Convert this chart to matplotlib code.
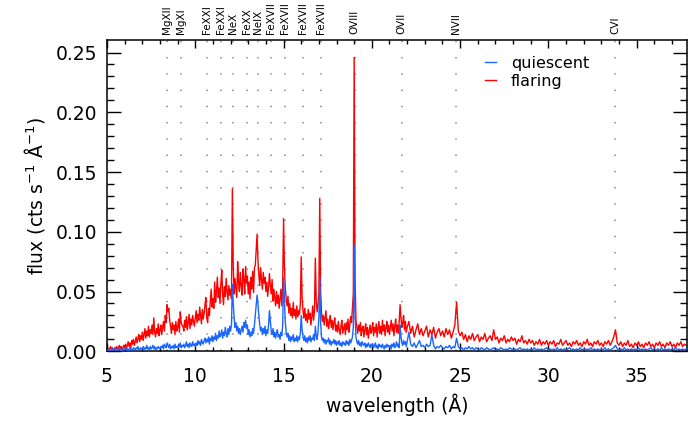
import numpy as np
import matplotlib
matplotlib.use("Agg")
import matplotlib.pyplot as plt

# Two wavelength segments (Angstrom): fine bins 5.00-21.95 (0.05 A),
# coarser bins 22.0-37.8 (0.1 A)
seg_a_start, seg_a_step = 5.0, 0.05
seg_b_start, seg_b_step = 22.0, 0.1

# flaring flux, units of 1e-3 cts s^-1 A^-1
flaring_a_milli = [
    1, 3, 0, 2, 4, 1, 3, 2, 0, 3, 2, 4, 1, 3, 5, 2, 4, 1, 3, 5,             # 5
    3, 6, 2, 5, 8, 4, 7, 3, 9, 6, 10, 5, 8, 12, 7, 11, 14, 8, 13, 10,       # 6
    16, 9, 14, 19, 11, 17, 13, 21, 12, 18, 15, 22, 14, 28, 16, 12, 19, 15, 23, 13,  # 7
    18, 22, 14, 20, 25, 17, 30, 24, 39, 33, 36, 26, 21, 15, 24, 18, 22, 14, 25, 17,  # 8
    20, 27, 16, 33, 24, 22, 21, 17, 26, 20, 29, 18, 24, 31, 19, 27, 22, 30, 25, 21,  # 9
    28, 34, 24, 31, 26, 37, 30, 23, 35, 27, 32, 39, 45, 28, 24, 36, 30, 42, 52, 37,  # 10
    44, 36, 58, 41, 50, 62, 45, 53, 40, 57, 68, 48, 39, 54, 46, 61, 50, 43, 55, 47,  # 11
    52, 44, 136, 72, 48, 61, 53, 45, 75, 58, 50, 66, 55, 47, 69, 60, 48, 71, 57, 63, # 12
    48, 58, 44, 62, 52, 67, 49, 70, 72, 85, 98, 76, 64, 55, 70, 60, 52, 66, 57, 62,  # 13
    50, 58, 46, 54, 65, 55, 48, 60, 42, 52, 45, 38, 50, 40, 47, 36, 44, 52, 38, 55,  # 14
    111, 70, 52, 44, 38, 46, 32, 40, 30, 36, 28, 41, 30, 35, 27, 38, 29, 34, 31, 40, # 15
    79, 45, 34, 28, 36, 26, 31, 24, 35, 27, 32, 22, 29, 38, 26, 34, 78, 42, 33, 40,  # 16
    48, 128, 50, 32, 25, 30, 22, 28, 34, 21, 27, 19, 25, 30, 20, 26, 18, 24, 28, 17, # 17
    22, 16, 25, 18, 14, 21, 26, 15, 19, 23, 14, 24, 18, 27, 16, 22, 29, 24, 36, 48,  # 18
    246, 60, 26, 20, 15, 22, 17, 24, 13, 19, 21, 12, 18, 23, 14, 20, 11, 17, 22, 15, # 19
    18, 24, 13, 20, 16, 23, 12, 19, 25, 15, 21, 14, 26, 17, 22, 13, 20, 25, 16, 22,  # 20
    14, 20, 26, 17, 23, 13, 21, 27, 16, 22, 15, 25, 39, 28, 20, 24, 30, 18, 25, 16,  # 21
]
flaring_b_milli = [
    20, 25, 15, 21, 12, 18, 23, 14, 19, 13,  # 22
    17, 21, 12, 18, 14, 20, 11, 16, 19, 13,  # 23
    17, 12, 19, 14, 18, 11, 16, 22, 41, 17,  # 24
    13, 16, 10, 14, 8, 13, 10, 15, 9, 12,    # 25
    14, 8, 12, 10, 15, 8, 11, 13, 9, 18,     # 26
    10, 12, 7, 11, 9, 13, 7, 10, 8, 12,      # 27
    9, 11, 6, 10, 8, 13, 7, 9, 6, 10,        # 28
    7, 9, 5, 8, 6, 10, 5, 8, 6, 9,           # 29
    5, 8, 6, 9, 4, 7, 6, 10, 5, 7,           # 30
    9, 5, 7, 4, 8, 6, 9, 5, 7, 4,            # 31
    8, 6, 10, 5, 7, 4, 8, 6, 9, 5,           # 32
    7, 4, 8, 6, 9, 5, 8, 12, 18, 7,          # 33
    5, 8, 4, 7, 5, 9, 4, 6, 3, 7,            # 34
    5, 8, 4, 6, 3, 7, 5, 8, 4, 6,            # 35
    3, 7, 5, 8, 4, 6, 3, 7, 5, 8,            # 36
    4, 6, 3, 7, 5, 8, 4, 6, 5,               # 37
]

# quiescent flux, units of 1e-3 cts s^-1 A^-1
quiescent_a_milli = [
    1, 0, 2, 1, 0, 1, 2, 0, 1, 3, 1, 0, 2, 1, 3, 1, 0, 2, 1, 2,             # 5
    1, 3, 1, 2, 0, 2, 3, 1, 2, 1, 3, 2, 1, 3, 2, 4, 1, 2, 3, 1,             # 6
    2, 4, 1, 3, 2, 5, 2, 3, 1, 4, 2, 3, 5, 2, 4, 1, 3, 2, 4, 3,             # 7
    2, 4, 3, 5, 2, 6, 4, 3, 7, 5, 3, 6, 2, 4, 3, 5, 2, 6, 3, 4,             # 8
    3, 6, 4, 7, 3, 5, 4, 6, 3, 5, 8, 4, 6, 3, 7, 5, 4, 8, 5, 6,             # 9
    4, 7, 5, 9, 6, 8, 5, 10, 7, 6, 9, 11, 7, 10, 8, 12, 6, 11, 9, 13,       # 10
    8, 12, 10, 15, 9, 13, 11, 17, 12, 14, 18, 11, 16, 13, 20, 15, 12, 19, 14, 21,  # 11
    17, 22, 56, 40, 28, 20, 24, 17, 21, 15, 19, 14, 18, 21, 16, 24, 20, 26, 19, 22,  # 12
    14, 18, 12, 16, 13, 19, 15, 22, 30, 38, 47, 40, 30, 22, 17, 20, 14, 19, 15, 21,  # 13
    13, 18, 15, 22, 34, 26, 17, 14, 19, 12, 16, 11, 15, 18, 12, 14, 10, 16, 13, 22,  # 14
    62, 42, 24, 16, 12, 15, 9, 13, 8, 12, 10, 14, 8, 11, 9, 13, 8, 12, 10, 15,     # 15
    30, 18, 12, 9, 13, 8, 11, 7, 12, 9, 13, 8, 11, 10, 14, 9, 21, 13, 10, 16,      # 16
    28, 62, 24, 12, 9, 11, 7, 10, 6, 9, 8, 11, 6, 9, 5, 8, 7, 10, 6, 9,            # 17
    5, 8, 6, 9, 5, 7, 4, 8, 6, 7, 5, 9, 6, 8, 5, 10, 7, 9, 12, 20,                 # 18
    89, 30, 12, 8, 6, 9, 5, 7, 4, 8, 6, 5, 7, 3, 6, 4, 7, 5, 3, 6,                 # 19
    4, 6, 3, 5, 7, 3, 5, 2, 6, 4, 5, 3, 6, 4, 2, 5, 3, 6, 4, 5,                    # 20
    3, 5, 2, 6, 4, 7, 3, 5, 8, 4, 6, 3, 22, 12, 7, 5, 9, 6, 8, 4,                  # 21
]
quiescent_b_milli = [
    8, 16, 6, 4, 7, 3, 6, 9, 4, 5,           # 22
    3, 6, 4, 5, 14, 5, 2, 4, 3, 5,           # 23
    3, 2, 4, 3, 5, 2, 4, 3, 11, 4,           # 24
    2, 3, 1, 3, 2, 4, 2, 3, 1, 3,            # 25
    2, 1, 3, 2, 1, 3, 2, 1, 2, 3,            # 26
    1, 2, 1, 3, 2, 1, 2, 1, 3, 2,            # 27
    1, 2, 1, 2, 3, 1, 2, 1, 2, 1,            # 28
    2, 1, 3, 1, 2, 1, 2, 1, 2, 3,            # 29
    1, 2, 1, 2, 1, 3, 1, 2, 1, 2,            # 30
    1, 2, 3, 1, 2, 1, 2, 1, 3, 1,            # 31
    2, 1, 2, 1, 3, 1, 2, 1, 2, 1,            # 32
    2, 1, 3, 1, 2, 1, 2, 3, 5, 2,            # 33
    1, 2, 1, 3, 1, 2, 1, 2, 1, 2,            # 34
    1, 3, 1, 2, 1, 2, 1, 2, 3, 1,            # 35
    2, 1, 2, 1, 3, 1, 2, 1, 2, 1,            # 36
    2, 1, 3, 1, 2, 1, 2, 1, 2,               # 37
]

# identified emission lines (labels as shown above the plot)
line_names = ["MgXII", "MgXI", "FeXXI", "FeXXI", "NeX", "FeXX", "NeIX",
              "FeXVII", "FeXVII", "FeXVII", "FeXVII", "OVIII", "OVII",
              "NVII", "CVI"]
line_waves = [8.42, 9.17, 10.68, 11.44, 12.12, 12.91, 13.57,
              14.27, 15.08, 16.08, 17.10, 19.02, 21.68, 24.78, 33.78]

x_ticks = [5, 10, 15, 20, 25, 30, 35]
y_ticks = [0.00, 0.05, 0.10, 0.15, 0.20, 0.25]

assert len(flaring_a_milli) == len(quiescent_a_milli) == 340
assert len(flaring_b_milli) == len(quiescent_b_milli) == 159

wave = np.concatenate([
    seg_a_start + seg_a_step * np.arange(len(flaring_a_milli)),
    seg_b_start + seg_b_step * np.arange(len(flaring_b_milli)),
])
flaring = np.array(flaring_a_milli + flaring_b_milli) / 1000.0
quiescent = np.array(quiescent_a_milli + quiescent_b_milli) / 1000.0

plt.rcParams['font.family'] = ['DejaVu Sans']
fig = plt.figure(figsize=(6.88, 4.25), dpi=100)
ax = fig.add_axes([107/688, 1 - 351.3/425, 580/688, 311.3/425])

for name, w in zip(line_names, line_waves):
    ax.axvline(w, color='#999999', lw=1.3, ls=(0, (0.8, 8.2)), zorder=1)
    ax.text(w, 1.02, name, transform=ax.get_xaxis_transform(),
            rotation=90, ha='center', va='bottom', fontsize=7.5,
            color='black')

l_fl, = ax.plot(wave, flaring, color='#ff0000', lw=1.0,
                zorder=2, label='flaring')
l_qu, = ax.plot(wave, quiescent, color='#1a66ff', lw=1.0,
                zorder=3, label='quiescent')

ax.set_xlim(5, 37.85)
ax.set_ylim(0, 0.2605)
ax.set_xticks(x_ticks)
ax.set_xticklabels([str(t) for t in x_ticks])
ax.set_yticks(y_ticks)
ax.set_yticklabels(["%.2f" % t for t in y_ticks])
ax.set_xticks(np.arange(5, 38, 1), minor=True)
ax.set_yticks(np.arange(0, 0.26, 0.01), minor=True)

ax.tick_params(axis='x', which='major', direction='in', top=True,
               length=6, width=1, labelsize=13.5, pad=11)
ax.tick_params(axis='x', which='minor', direction='in', top=True,
               length=3, width=1)
ax.tick_params(axis='y', which='major', direction='in', right=True,
               length=10, width=1, labelsize=13.5, pad=7)
ax.tick_params(axis='y', which='minor', direction='in', right=True,
               length=5, width=1)
for s in ax.spines.values():
    s.set_linewidth(1.1)

ax.set_xlabel("wavelength (Å)", fontsize=13.5, labelpad=6)
ax.set_ylabel("flux (cts s$^{-1}$ Å$^{-1}$)", fontsize=13.5, labelpad=6)

leg = ax.legend([l_qu, l_fl], ['quiescent', 'flaring'], loc='upper left',
                bbox_to_anchor=(0.652, 0.95), frameon=False, fontsize=11.5,
                handlelength=0.7, handletextpad=0.9, labelspacing=0.2,
                borderaxespad=0, borderpad=0)

fig.savefig("out.png", dpi=100)
